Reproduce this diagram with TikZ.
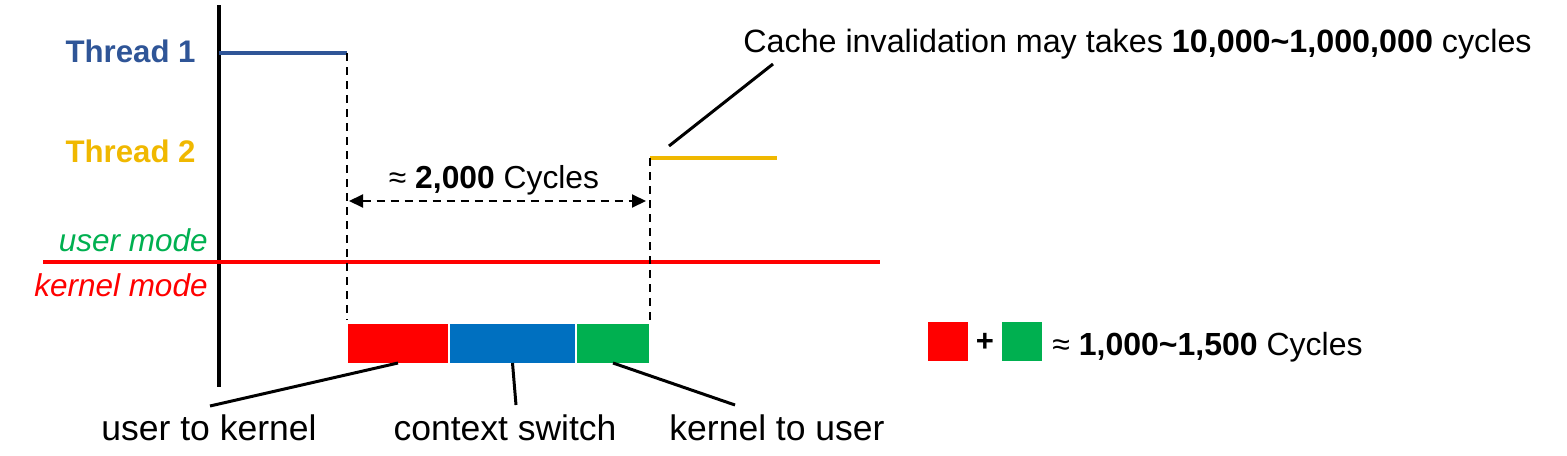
\documentclass[tikz,border=0pt]{standalone}
\usepackage{fontspec}
\setmainfont{Liberation Sans}
\usetikzlibrary{arrows.meta}
\definecolor{tblue}{HTML}{2F5597}
\definecolor{tgold}{HTML}{F0B800}
\definecolor{mgreen}{HTML}{00B050}
\definecolor{bblue}{HTML}{0070C0}
\definecolor{mred}{HTML}{FF0000}
\begin{document}
\begin{tikzpicture}[x=0.5pt,y=-0.5pt,
  lbl/.style={inner sep=0pt,font=\fontsize{15.5}{18}\selectfont},
  thr/.style={lbl,font=\fontsize{15.6}{18}\selectfont\bfseries},
  modelbl/.style={lbl,font=\fontsize{15.75}{18}\selectfont\itshape},
  botlbl/.style={inner sep=0pt,font=\fontsize{17.75}{20}\selectfont},
  seg/.style={inner sep=0pt,outer sep=0pt,minimum height=19.5pt},
  leader/.style={line width=1.5pt,black},
  guide/.style={line width=1pt,dash pattern=on 4pt off 3pt},
  sq/.style={inner sep=0pt,outer sep=0pt,minimum width=20pt,minimum height=19.5pt}]
\useasboundingbox (0,0) rectangle (1567,455);
% axis
\coordinate (axtop) at (219,5);
\coordinate (axbot) at (219,387);
\draw[line width=2pt] (axtop) -- (axbot);
% thread labels
\node[thr,text=tblue,anchor=base east] (t1) at (196,62) {Thread 1};
\node[thr,text=tgold,anchor=base east] (t2) at (196,162) {Thread 2};
% thread lines
\coordinate (t1s) at (219,53);
\coordinate (t1e) at (347,53);
\coordinate (t2s) at (650,158);
\coordinate (t2e) at (777,158);
\draw[line width=2.2pt,tblue] (t1s) -- (t1e);
\draw[line width=2.2pt,tgold] (t2s) -- (t2e);
% mode line
\coordinate (ml1) at (43,262);
\coordinate (ml2) at (880,262);
\draw[line width=1.6pt,mred] (ml1) -- (ml2);
\node[modelbl,text=mgreen,anchor=base east] (um) at (208,251) {user mode};
\node[modelbl,text=mred,anchor=base east] (km) at (208,296) {kernel mode};
% segments
\node[seg,fill=mred,minimum width=50pt,anchor=north west] (rk) at (348,324) {};
\node[seg,fill=bblue,minimum width=62.5pt,anchor=north west] (bb) at (450,324) {};
\node[seg,fill=mgreen,minimum width=36pt,anchor=north west] (gk) at (577,324) {};
% dashed guides
\coordinate (g1b) at (347,320);
\coordinate (g2b) at (650,320);
\draw[guide] (t1e) -- (g1b);
\draw[guide] (t2s) -- (g2b);
% dashed arrow
\coordinate (a1) at (349,201);
\coordinate (a2) at (646,201);
\draw[guide,{Triangle[length=7pt,width=6.5pt]}-{Triangle[length=7pt,width=6.5pt]}] (a1) -- (a2);
\node[lbl,font=\fontsize{15.9}{18}\selectfont,anchor=base] (cyc) at (494,188) {≈ \textbf{2,000} Cycles};
% bottom labels
\node[botlbl,anchor=base] (uk) at (209,440) {user to kernel};
\node[botlbl,anchor=base] (cs) at (505,440) {context switch};
\node[botlbl,anchor=base] (ku) at (777,440) {kernel to user};
\coordinate (ukt) at (210,406);
\coordinate (cst) at (516,405);
\coordinate (kut) at (735,405);
\draw[leader] (rk.south) -- (ukt);
\draw[leader] (bb.south) -- (cst);
\draw[leader] (gk.south) -- (kut);
% cache
\node[inner sep=0pt,font=\fontsize{16.13}{20}\selectfont,anchor=base west] (cache) at (743,52) {Cache invalidation may takes \textbf{10,000\textasciitilde1,000,000} cycles};
\coordinate (cb) at (669,146);
\coordinate (ct) at (773,64);
\draw[leader] (cb) -- (ct);
% legend
\node[sq,fill=mred,anchor=north west] (lr) at (928,322) {};
\node[sq,fill=mgreen,anchor=north west] (lg) at (1002,322) {};
\node[inner sep=0pt,font=\fontsize{15.5}{18}\selectfont\bfseries] (plus) at (985,342) {+};
\node[lbl,font=\fontsize{16}{18}\selectfont,anchor=base west] (lt) at (1052,355) {≈ \textbf{1,000\textasciitilde1,500} Cycles};
\end{tikzpicture}
\end{document}
